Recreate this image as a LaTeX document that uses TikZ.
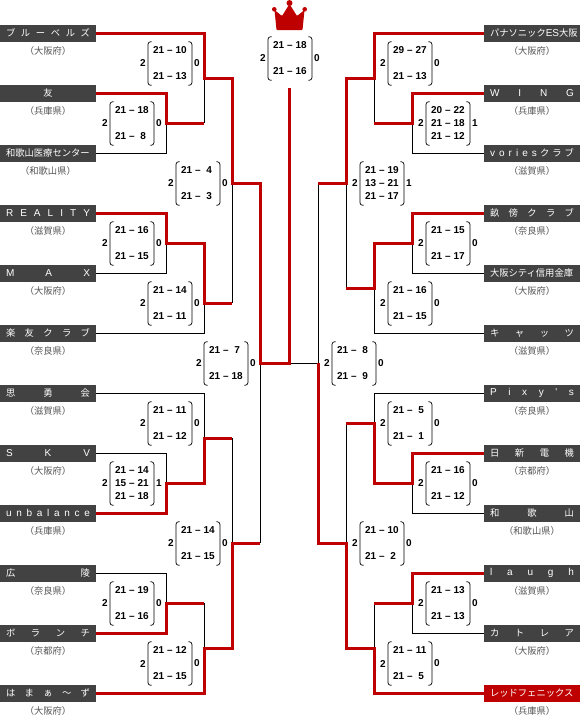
\documentclass[tikz,border=0pt]{standalone}
\usepackage{fontspec}
\setmainfont{Noto Sans CJK JP}
\newfontfamily\scorefont{Liberation Sans}[BoldFont={Liberation Sans Bold}]
\usetikzlibrary{positioning}
\definecolor{winred}{HTML}{BE0000}
\definecolor{teamgray}{HTML}{424242}
\definecolor{prefgray}{HTML}{555555}

\newcommand{\spreadname}[1]{\makebox[84pt][s]{#1}}
\newcommand{\latinname}{\scorefont\fontsize{10}{11}\selectfont}
\newcommand{\gamescore}[2]{\makebox[11pt][r]{#1}\makebox[11.3pt][c]{–}\makebox[11pt][c]{#2}}
\newcommand{\twogames}[2]{#1\\\mbox{}\\#2}
\newcommand{\matchbox}[6]{%
    \node[scoresheet] (#1) at (#2,#3) {#4};
    \draw[scoreparen] ([xshift=3.5pt]#1.north west) -- (#1.north west)
        -- (#1.south west) -- ([xshift=3.5pt]#1.south west);
    \draw[scoreparen] ([xshift=-3.5pt]#1.north east) -- (#1.north east)
        -- (#1.south east) -- ([xshift=-3.5pt]#1.south east);
    \node[setcount, left=2pt of #1.west] (#1w) {#5};
    \node[setcount, right=2pt of #1.east] (#1l) {#6};
}

\tikzset{
    teambox/.style={
        fill=teamgray,
        text=white,
        inner sep=0pt,
        minimum width=96pt,
        minimum height=17pt,
        font=\fontsize{9.3}{11}\selectfont
    },
    champbox/.style={teambox, fill=winred},
    prefname/.style={
        inner sep=0pt,
        text=prefgray,
        font=\fontsize{9.3}{11}\selectfont
    },
    scoresheet/.style={
        anchor=west,
        inner sep=0pt,
        text width=43.5pt,
        minimum height=43pt,
        align=center,
        font=\scorefont\bfseries\fontsize{10}{13}\selectfont
    },
    scoreparen/.style={line width=0.7pt, rounded corners=2.5pt},
    setcount/.style={
        inner sep=0pt,
        font=\scorefont\bfseries\fontsize{10}{13}\selectfont
    },
    loseline/.style={line width=1pt, black},
    winline/.style={line width=3pt, winred, line join=miter}
}

\begin{document}
\begin{tikzpicture}[x=1pt, y=-1pt]

\useasboundingbox (0,0) rectangle (580,716);

% ---------------- EQUIPS ----------------

\foreach \id/\y/\team/\pref in {
    1/33/ブ ル ー ベ ル ズ/（大阪府）,
    2/93/\hfil 友\hfil/（兵庫県）,
    3/153/和歌山医療センター/（和歌山県）,
    4/213/\latinname R E A L I T Y/（滋賀県）,
    5/273/\latinname M A X/（大阪府）,
    6/333/楽 友 ク ラ ブ/（奈良県）,
    7/393/思 勇 会/（滋賀県）,
    8/453/\latinname S K V/（大阪府）,
    9/513/\latinname u n b a l a n c e/（兵庫県）,
    10/573/広 陵/（奈良県）,
    11/633/ボ ラ ン チ/（京都府）,
    12/693/は ま ぁ 〜 ず/（大阪府）}
{
    \node[teambox] (t\id) at (48,\y) {\spreadname{\team}};
    \node[prefname, below=9pt of t\id.south, anchor=center] (p\id) {\pref};
}

\foreach \id/\y/\team/\pref in {
    13/33/パナソニック{\latinname ES}大阪/（大阪府）,
    14/93/\latinname W I N G/（兵庫県）,
    15/153/{\latinname v o r i e s} ク ラ ブ/（滋賀県）,
    16/213/畝 傍 ク ラ ブ/（奈良県）,
    17/273/大阪シティ信用金庫/（大阪府）,
    18/333/キ ャ ッ ツ/（滋賀県）,
    19/393/\latinname P i x y ' s/（奈良県）,
    20/453/日 新 電 機/（京都府）,
    21/513/和 歌 山/（和歌山県）,
    22/573/\latinname l a u g h/（滋賀県）,
    23/633/カ ト レ ア/（大阪府）}
{
    \node[teambox] (t\id) at (532,\y) {\spreadname{\team}};
    \node[prefname, below=9pt of t\id.south, anchor=center] (p\id) {\pref};
}

\node[champbox] (t24) at (532,693) {\spreadname{レッドフェニックス}};
\node[prefname, below=9pt of t24.south, anchor=center] (p24) {（兵庫県）};


% ---------------- ENCREUAMENTS ----------------

% costat esquerre
\coordinate (a1) at (204,78);
\coordinate (a2) at (166,123);
\coordinate (a3) at (204,123);
\coordinate (a4) at (166,243);
\coordinate (a5) at (204,303);
\coordinate (a6) at (232,303);
\coordinate (a7) at (204,438);
\coordinate (a8) at (166,483);
\coordinate (a9) at (166,603);
\coordinate (a10) at (204,603);
\coordinate (a11) at (204,648);
\coordinate (b1) at (232,183);
\coordinate (b2) at (232,438);
\coordinate (b3) at (232,543);
\coordinate (c1) at (260,363);
\coordinate (c2) at (260,543);
\coordinate (top) at (289.5,88);
\coordinate (mid) at (289.5,363);

% costat dret
\coordinate (r1) at (374,78);
\coordinate (r2) at (412,123);
\coordinate (r3) at (374,123);
\coordinate (r4) at (412,243);
\coordinate (r5) at (374,288);
\coordinate (r6) at (374,423);
\coordinate (r7) at (412,483);
\coordinate (r8) at (412,603);
\coordinate (r9) at (374,603);
\coordinate (r10) at (374,648);
\coordinate (s1) at (346,183);
\coordinate (s2) at (346,288);
\coordinate (s3) at (346,423);
\coordinate (s4) at (346,543);
\coordinate (d1) at (318,183);
\coordinate (d2) at (318,363);

% perdedors
\draw[loseline] (t3.east) -| (a2);
\draw[loseline] (a1) -- (a3);
\draw[loseline] (t5.east) -| (a4);
\draw[loseline] (t6.east) -| (a5);
\draw[loseline] (b1) -- (a6);
\draw[loseline] (t7.east) -| (a7);
\draw[loseline] (t8.east) -| (a8);
\draw[loseline] (b2) -- (b3);
\draw[loseline] (t10.east) -| (a9);
\draw[loseline] (a10) -- (a11);
\draw[loseline] (c1) -- (c2);
\draw[loseline] (t15.west) -| (r2);
\draw[loseline] (r1) -- (r3);
\draw[loseline] (t17.west) -| (r4);
\draw[loseline] (t18.west) -| (r5);
\draw[loseline] (s1) -- (s2);
\draw[loseline] (t19.west) -| (r6);
\draw[loseline] (t21.west) -| (r7);
\draw[loseline] (s3) -- (s4);
\draw[loseline] (t23.west) -| (r8);
\draw[loseline] (r9) -- (r10);
\draw[loseline] (d1) -- (d2) -- (mid);

% guanyadors
\draw[winline] (t2.east) -| (a2) -- (a3);
\draw[winline] (t1.east) -| (a1) -| (b1) -| (c1) -| (top);
\draw[winline] (t4.east) -| (a4) -| (a5) -- (a6);
\draw[winline] (t9.east) -| (a8) -| (a7) -- (b2);
\draw[winline] (t11.east) -| (a9) -- (a10);
\draw[winline] (t12.east) -| (a11) -| (b3) -- (c2);
\draw[winline] (t14.west) -| (r2) -- (r3);
\draw[winline] (t13.west) -| (r1) -| (s1) -- (d1);
\draw[winline] (t16.west) -| (r4) -| (r5) -- (s2);
\draw[winline] (t20.west) -| (r7) -| (r6) -- (s3);
\draw[winline] (t22.west) -| (r8) -- (r9);
\draw[winline] (t24.west) -| (r10) -| (s4) -| (d2);


% ---------------- RESULTATS ----------------

\matchbox{m1}{148}{63.5}{\twogames{\gamescore{21}{10}}{\gamescore{21}{13}}}{2}{0}
\matchbox{m2}{110}{123.5}{\twogames{\gamescore{21}{18}}{\gamescore{21}{8}}}{2}{0}
\matchbox{m3}{176}{183.5}{\twogames{\gamescore{21}{4}}{\gamescore{21}{3}}}{2}{0}
\matchbox{m4}{110}{243.5}{\twogames{\gamescore{21}{16}}{\gamescore{21}{15}}}{2}{0}
\matchbox{m5}{148}{303.5}{\twogames{\gamescore{21}{14}}{\gamescore{21}{11}}}{2}{0}
\matchbox{m6}{204}{363.5}{\twogames{\gamescore{21}{7}}{\gamescore{21}{18}}}{2}{0}
\matchbox{m7}{148}{423.5}{\twogames{\gamescore{21}{11}}{\gamescore{21}{12}}}{2}{0}
\matchbox{m8}{110}{483.5}{\gamescore{21}{14}\\\gamescore{15}{21}\\\gamescore{21}{18}}{2}{1}
\matchbox{m9}{176}{543.5}{\twogames{\gamescore{21}{14}}{\gamescore{21}{15}}}{2}{0}
\matchbox{m10}{110}{603.5}{\twogames{\gamescore{21}{19}}{\gamescore{21}{16}}}{2}{0}
\matchbox{m11}{148}{663.5}{\twogames{\gamescore{21}{12}}{\gamescore{21}{15}}}{2}{0}

\matchbox{m12}{388}{63.5}{\twogames{\gamescore{29}{27}}{\gamescore{21}{13}}}{2}{0}
\matchbox{m13}{426}{123.5}{\gamescore{20}{22}\\\gamescore{21}{18}\\\gamescore{21}{12}}{2}{1}
\matchbox{m14}{360}{183.5}{\gamescore{21}{19}\\\gamescore{13}{21}\\\gamescore{21}{17}}{2}{1}
\matchbox{m15}{426}{243.5}{\twogames{\gamescore{21}{15}}{\gamescore{21}{17}}}{2}{0}
\matchbox{m16}{388}{303.5}{\twogames{\gamescore{21}{16}}{\gamescore{21}{15}}}{2}{0}
\matchbox{m17}{332}{363.5}{\twogames{\gamescore{21}{8}}{\gamescore{21}{9}}}{2}{0}
\matchbox{m18}{388}{423.5}{\twogames{\gamescore{21}{5}}{\gamescore{21}{1}}}{2}{0}
\matchbox{m19}{426}{483.5}{\twogames{\gamescore{21}{16}}{\gamescore{21}{12}}}{2}{0}
\matchbox{m20}{360}{543.5}{\twogames{\gamescore{21}{10}}{\gamescore{21}{2}}}{2}{0}
\matchbox{m21}{426}{603.5}{\twogames{\gamescore{21}{13}}{\gamescore{21}{13}}}{2}{0}
\matchbox{m22}{388}{663.5}{\twogames{\gamescore{21}{11}}{\gamescore{21}{5}}}{2}{0}

% final
\matchbox{final}{268}{58.5}{\twogames{\gamescore{21}{18}}{\gamescore{21}{16}}}{2}{0}


% ---------------- CORONA ----------------

\fill[winred, rounded corners=0.8pt]
    (276.5,30) -- (274.5,10) -- (282,16) -- (289.5,4)
    -- (297,16) -- (304.5,10) -- (302.5,30) -- cycle;
\fill[winred] (274.3,9.3) circle (2.3);
\fill[winred] (304.7,9.3) circle (2.3);
\fill[winred] (289.5,3) circle (3);

\end{tikzpicture}
\end{document}
